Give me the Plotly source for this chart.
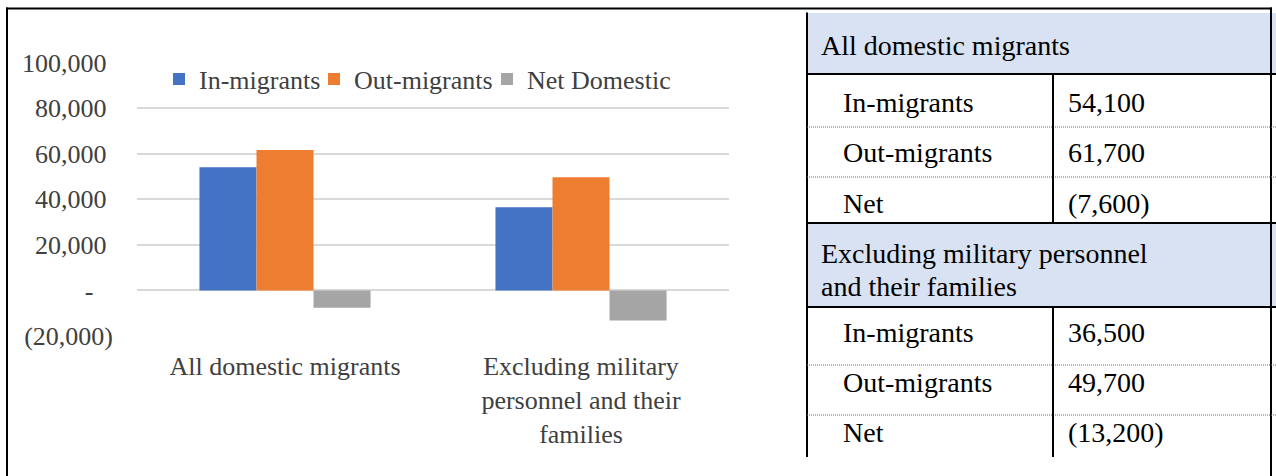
import plotly.graph_objects as go

# ---------------- data ----------------
categories = ["All domestic migrants", "Excluding military<br>personnel and their<br>families"]
series_names = ["In-migrants", "Out-migrants", "Net Domestic"]
in_migrants = [54100, 36500]
out_migrants = [61700, 49700]
net_domestic = [-7600, -13200]

y_tickvals = [-20000, 0, 20000, 40000, 60000, 80000, 100000]
y_ticktext = ["(20,000)", "-\u00a0\u00a0\u00a0", "20,000\u00a0", "40,000\u00a0",
              "60,000\u00a0", "80,000\u00a0", "100,000\u00a0"]

table_groups = ["All domestic migrants", "Excluding military personnel<br>and their families"]
table_row_labels = ["In-migrants", "Out-migrants", "Net"]

# ---------------- styling / layout helpers ----------------
W, H = 1276, 476
FONT = "'Liberation Serif', 'Times New Roman', serif"
CHART_TXT = "#404040"
COLORS = ["#4472C4", "#ED7D31", "#A5A5A5"]
HEADER_FILL = "#D9E2F3"
CHART_FS = 26
TABLE_FS = 28


def px(x):
    return x / W


def py(y):
    return 1 - y / H


def fmt(v):
    return f"({abs(v):,})" if v < 0 else f"{v:,}"


fig = go.Figure()
legend_widths = [110, 128, 150]
for name, vals, col, lw in zip(series_names, [in_migrants, out_migrants, net_domestic], COLORS, legend_widths):
    fig.add_bar(x=categories, y=vals, name=name, marker=dict(color=col, line=dict(width=0)),
                legendwidth=lw, hoverinfo="skip")

fig.update_layout(
    template="none",
    width=W, height=H, autosize=False,
    margin=dict(l=0, r=0, t=0, b=0, pad=0, autoexpand=False),
    paper_bgcolor="white", plot_bgcolor="white",
    font=dict(family=FONT, size=CHART_FS, color=CHART_TXT),
    barmode="group", bargap=0.422, bargroupgap=0,
    showlegend=True,
    legend=dict(orientation="h", x=px(159), xanchor="left", y=py(79), yanchor="middle",
                bgcolor="rgba(0,0,0,0)", borderwidth=0,
                font=dict(family=FONT, size=CHART_FS, color=CHART_TXT),
                itemwidth=30, traceorder="normal"),
    xaxis=dict(domain=[px(137), px(729)], showgrid=False, showline=False, zeroline=False,
               ticks="", ticklabelstandoff=12, automargin=False,
               tickfont=dict(family=FONT, size=CHART_FS, color=CHART_TXT)),
    yaxis=dict(domain=[py(336), py(62.7)], range=[-20000, 100000], tickmode="array",
               tickvals=y_tickvals, ticktext=y_ticktext, showgrid=True, gridcolor="#D9D9D9",
               gridwidth=2, zeroline=False, showline=False, ticks="", ticklabelstandoff=23,
               automargin=False,
               tickfont=dict(family=FONT, size=CHART_FS, color=CHART_TXT)),
)

shapes = []


def hline(y, x0, x1, width=2, color="black", dash="solid"):
    shapes.append(dict(type="line", xref="paper", yref="paper", x0=px(x0), x1=px(x1),
                       y0=py(y), y1=py(y), line=dict(color=color, width=width, dash=dash)))


def vline(x, y0, y1, width=2, color="black"):
    shapes.append(dict(type="line", xref="paper", yref="paper", x0=px(x), x1=px(x),
                       y0=py(y0), y1=py(y1), line=dict(color=color, width=width)))


def rect(x0, y0, x1, y1, fill):
    shapes.append(dict(type="rect", xref="paper", yref="paper", x0=px(x0), x1=px(x1),
                       y0=py(y1), y1=py(y0), line=dict(width=0), fillcolor=fill, layer="below"))


# table geometry (pixels)
TL, CD, TR, EDGE = 807, 1053, 1271, 1276
blocks = [
    dict(top=13, hdr_bot=74, rows=[74, 127, 177, 223], hdr_lines=[45], row_centers=[102, 152, 203]),
    dict(top=223, hdr_bot=307, rows=[307, 365, 415, 457], hdr_lines=[253, 286], row_centers=[332, 382, 432]),
]

for b in blocks:
    rect(TL, b["top"], EDGE, b["hdr_bot"], HEADER_FILL)

# outer frame
hline(8.5, 6, 1272)
vline(7, 7.5, 476)
vline(TR, 7.5, 476)
# table lines
vline(TL, 12.5, 457)
for b in blocks:
    r = b["rows"]
    hline(r[0], TL - 1, EDGE)
    hline(r[1], TL, EDGE, width=1, color="#6d6d6d", dash="1px,1px")
    hline(r[2], TL, EDGE, width=1, color="#6d6d6d", dash="1px,1px")
    vline(CD, r[0], r[3])
hline(223, TL - 1, EDGE)

annotations = []


def label(x, y, text):
    annotations.append(dict(xref="paper", yref="paper", x=px(x), y=py(y), xanchor="left",
                            yanchor="middle", showarrow=False, text=text,
                            font=dict(family=FONT, size=TABLE_FS, color="black")))


values_by_block = [[in_migrants[i], out_migrants[i], net_domestic[i]] for i in range(2)]
for bi, b in enumerate(blocks):
    for line_text, yc in zip(table_groups[bi].split("<br>"), b["hdr_lines"]):
        label(819, yc, line_text)
    for lab, val, yc in zip(table_row_labels, values_by_block[bi], b["row_centers"]):
        label(841, yc, lab)
        label(1066, yc, fmt(val))

fig.update_layout(shapes=shapes, annotations=annotations)

fig.write_html("out.html", config={"displayModeBar": False},
               post_script="document.body.style.margin='0';document.body.style.overflow='hidden';")
